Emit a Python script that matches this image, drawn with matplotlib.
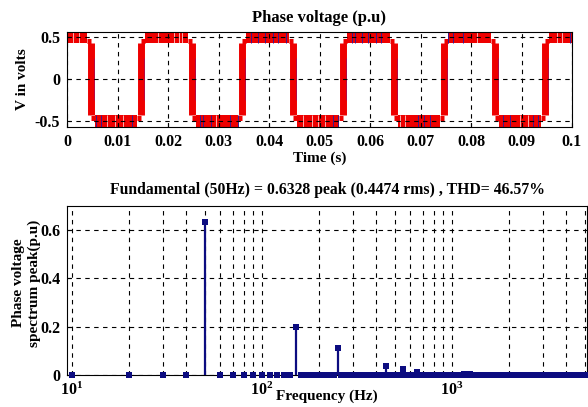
import numpy as np
import matplotlib
matplotlib.use("Agg")
import matplotlib.pyplot as plt
from matplotlib.ticker import FixedLocator, LogLocator, NullFormatter, FuncFormatter

plt.rcParams['font.family'] = ['Liberation Serif', 'DejaVu Serif']
plt.rcParams['font.weight'] = 'bold'
plt.rcParams['axes.unicode_minus'] = False
plt.rcParams['mathtext.fontset'] = 'custom'
plt.rcParams['mathtext.rm'] = 'Liberation Serif:bold'
plt.rcParams['mathtext.it'] = 'Liberation Serif:bold'
plt.rcParams['mathtext.bf'] = 'Liberation Serif:bold'

# phase voltage waveform
sw_times = [0.0047, 0.0147, 0.0247, 0.0347, 0.0447, 0.0547, 0.0647, 0.0747, 0.0847, 0.0947]
first_sign = 1
t_end = 0.1
blue_t = [0.0, 0.0057, 0.0067, 0.0129, 0.0263, 0.0270, 0.0285, 0.0323, 0.0338,
          0.0365, 0.0379, 0.0393, 0.0407, 0.0418, 0.0434, 0.0527, 0.0537,
          0.0564, 0.0570, 0.0584, 0.0597, 0.0612, 0.0622, 0.0696, 0.0706,
          0.0719, 0.0755, 0.0765, 0.0785, 0.0864, 0.0877, 0.0923, 0.0933, 0.0996]
white_t = [0.00125, 0.0024, 0.0079, 0.0095, 0.0111, 0.0181, 0.0212, 0.0222,
           0.0228, 0.0296, 0.0468, 0.0485, 0.0497, 0.0511, 0.0659, 0.0669,
           0.0811, 0.0897, 0.0913, 0.0970, 0.0980]

# spectrum (10 Hz bins, harmonics)
f_step = 10
f_max = 5000
harm_f = [50, 150, 250, 450, 550, 650, 1150, 1250]
harm_mag = [0.6328, 0.198, 0.111, 0.038, 0.025, 0.014, 0.006, 0.006]

red = '#ee0000'
navy = '#0c0c80'
grid_kw = dict(color='black', linestyle=(0, (4, 4)), linewidth=0.8)
tick_fs = 11.5
lab_fs = 11

fig = plt.figure(figsize=(5.88, 4.07), dpi=100)

# ---------------- top: phase voltage ----------------
ax1 = fig.add_axes([67/588, 1-127/407, 505/588, 95/407])
gap = 0.0008
edges = [0.0] + sw_times + [t_end]
sign = first_sign
for i in range(len(edges)-1):
    a = edges[i] + (gap if i > 0 else 0)
    b = edges[i+1] - (gap if i < len(edges)-2 else 0)
    if sign > 0:
        ax1.fill_between([a, b], 0.43, 0.6, color=red, lw=0)
    else:
        ax1.fill_between([a, b], -0.6, -0.43, color=red, lw=0)
    sign = -sign

sign = first_sign
for s in sw_times:
    ax1.hlines(sign*0.458, s-gap, s, color=red, lw=3.6)
    ax1.hlines(-sign*0.458, s, s+gap, color=red, lw=3.6)
    ax1.vlines(s, -0.43, 0.43, color=red, lw=5)
    ax1.vlines(s+0.0006, -0.25, 0.25, color='#6010a0', lw=0.4, alpha=0.7)
    sign = -sign


def band_sign(t):
    n = sum(1 for s in sw_times if s < t)
    return first_sign if n % 2 == 0 else -first_sign


for t in blue_t:
    sg = band_sign(t)
    ax1.vlines(t, sg*0.43, sg*0.6, color='#3a1890', lw=0.7)
for t in white_t:
    sg = band_sign(t)
    ax1.vlines(t, sg*0.43, sg*0.6, color='white', lw=0.6, alpha=0.8)

ax1.set_xlim(0, t_end)
ax1.set_ylim(-0.571, 0.56)
ax1.xaxis.set_major_locator(FixedLocator(np.round(np.arange(0, 0.1001, 0.01), 2)))
ax1.xaxis.set_major_formatter(FuncFormatter(lambda v, p: '%g' % v))
ax1.yaxis.set_major_locator(FixedLocator([-0.5, 0, 0.5]))
ax1.yaxis.set_major_formatter(FuncFormatter(lambda v, p: '%g' % v))
ax1.grid(True, **grid_kw)
ax1.set_axisbelow(False)
ax1.tick_params(direction='in', length=3, labelsize=tick_fs, pad=5)
ax1.set_title('Phase voltage (p.u)', fontsize=12, fontweight='bold', pad=7)
ax1.set_xlabel('Time (s)', fontsize=lab_fs, fontweight='bold')
ax1.xaxis.set_label_coords(0.5, -0.26)
ax1.set_ylabel('V in volts', fontsize=lab_fs, fontweight='bold')
ax1.yaxis.set_label_coords(-0.075, 0.5)

# ---------------- bottom: spectrum ----------------
ax2 = fig.add_axes([67/588, 1-375/407, 520/588, 169/407])
freqs = np.arange(f_step, f_max + 1, f_step)
mags = np.zeros(len(freqs))
for f, m in zip(harm_f, harm_mag):
    mags[freqs == f] = m

ax2.vlines(freqs, 0, mags, color=navy, lw=1.6, zorder=3)
ax2.plot(freqs, mags, linestyle='none', marker='s', markersize=4.9,
         color=navy, markeredgewidth=0, clip_on=False, zorder=4)

ax2.set_xscale('log')
ax2.set_xlim(9.41, 5130)
ax2.set_ylim(0, 0.7)
ax2.xaxis.set_major_locator(LogLocator(base=10))
ax2.xaxis.set_minor_locator(LogLocator(base=10, subs=np.arange(2, 10)))
ax2.xaxis.set_minor_formatter(NullFormatter())
ax2.xaxis.set_major_formatter(FuncFormatter(lambda v, p: r'$10^{%d}$' % round(np.log10(v))))
ax2.yaxis.set_major_locator(FixedLocator([0, 0.2, 0.4, 0.6]))
ax2.yaxis.set_major_formatter(FuncFormatter(lambda v, p: '%g' % v))
ax2.grid(True, which='both', axis='x', **grid_kw)
ax2.grid(True, which='major', axis='y', **grid_kw)
ax2.tick_params(which='both', direction='in', length=3, labelsize=tick_fs, pad=5)
ax2.tick_params(which='minor', length=2)
ax2.set_title('Fundamental (50Hz) = 0.6328 peak (0.4474 rms) , THD= 46.57%',
              fontsize=11.3, fontweight='bold', pad=9)
ax2.set_xlabel('Frequency (Hz)', fontsize=lab_fs, fontweight='bold')
ax2.xaxis.set_label_coords(0.5, -0.085)
ax2.set_ylabel('Phase voltage\nspectrum peak(p.u)', fontsize=lab_fs, fontweight='bold',
               linespacing=1.25)
ax2.yaxis.set_label_coords(-0.05, 0.545)

fig.savefig('out.png', dpi=100)
